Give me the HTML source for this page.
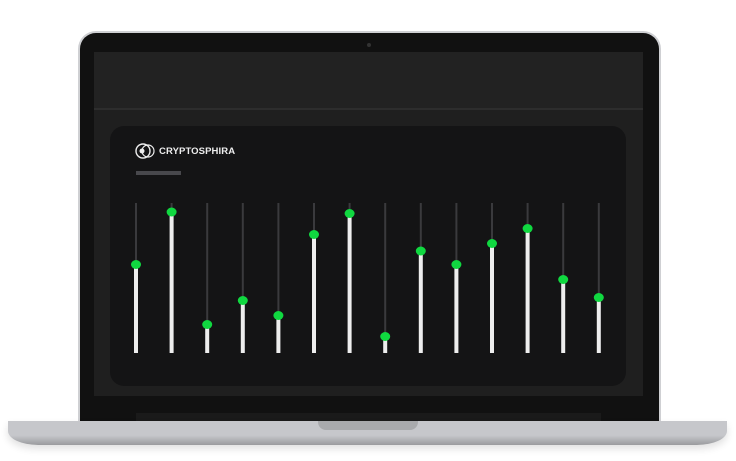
<!DOCTYPE html>
<html><head><meta charset="utf-8"><style>
body{margin:0;width:736px;height:461px;background:#fff;position:relative;overflow:hidden;font-family:"Liberation Sans",sans-serif}
div{position:absolute;box-sizing:border-box}
</style></head><body>
<div style="left:78px;top:31px;width:583px;height:392px;background:#111;border:2px solid #cfd0d3;border-radius:18px 18px 0 0;border-bottom:none"></div>
<div style="left:367px;top:43px;width:4px;height:4px;border-radius:2px;background:#333"></div>
<div style="left:94px;top:52px;width:549px;height:344px;background:#1f1f1f"></div>
<div style="left:94px;top:52px;width:549px;height:58px;background:#222;border-bottom:2px solid #2d2d2d"></div>
<div style="left:136px;top:413px;width:465px;height:8px;background:#1a1a1a"></div>
<div style="left:110px;top:126px;width:516px;height:260px;background:#141415;border-radius:14px"></div>
<div style="left:134px;top:142px;height:18px;display:flex;align-items:center;color:#eee;font-size:9.5px;font-weight:bold;letter-spacing:0.1px">
<svg width="24" height="18" viewBox="0 0 24 18"><circle cx="9" cy="9" r="7" fill="none" stroke="#eee" stroke-width="1.4"/><circle cx="14" cy="9" r="6" fill="none" stroke="#eee" stroke-width="1.2"/><circle cx="8" cy="9" r="2.5" fill="#eee"/></svg>
<span style="margin-left:1px">CRYPTOSPHIRA</span></div>
<div style="left:136px;top:171px;width:45px;height:4px;background:#48484c"></div>
<svg style="position:absolute;left:0;top:0" width="736" height="461" id="chart"></svg>
<div style="left:8px;top:421px;width:719px;height:24px;background:linear-gradient(#c6c7cb 60%,#9a9b9e);border-radius:0 0 30px 30px/0 0 14px 14px;box-shadow:0 4px 8px rgba(0,0,0,0.12)"></div>
<div style="left:318px;top:421px;width:100px;height:9px;background:#a9aaad;border-radius:0 0 8px 8px"></div>
<script>
const categories=["c1","c2","c3","c4","c5","c6","c7","c8","c9","c10","c11","c12","c13","c14"];
const values=[59,94,19,35,25,79,93,11,68,59,73,83,49,37];
const svgEl=document.getElementById('chart');
const NS='http://www.w3.org/2000/svg';
const x0=136,step=35.6,yTop=203,yBot=353;
function xs(i){return x0+i*step;}
function ys(v){return yBot-(v/100)*(yBot-yTop);}
categories.forEach((c,i)=>{
 const x=xs(i),y=ys(values[i]);
 const t=document.createElementNS(NS,'line');
 t.setAttribute('x1',x);t.setAttribute('x2',x);t.setAttribute('y1',yTop);t.setAttribute('y2',yBot);
 t.setAttribute('stroke','#3a3a3d');t.setAttribute('stroke-width','2');
 
 
 svgEl.appendChild(t);
 const b=document.createElementNS(NS,'rect');
 b.setAttribute('x',x-2);b.setAttribute('y',y);b.setAttribute('width',4);b.setAttribute('height',yBot-y);
 b.setAttribute('fill','#eeeeee');
 
 
 svgEl.appendChild(b);
 const d=document.createElementNS(NS,'ellipse');
 d.setAttribute('cx',x);d.setAttribute('cy',y);d.setAttribute('rx',5);d.setAttribute('ry',4.5);
 d.setAttribute('fill','#10d840');
 
 
 svgEl.appendChild(d);
});
</script>
</body></html>
